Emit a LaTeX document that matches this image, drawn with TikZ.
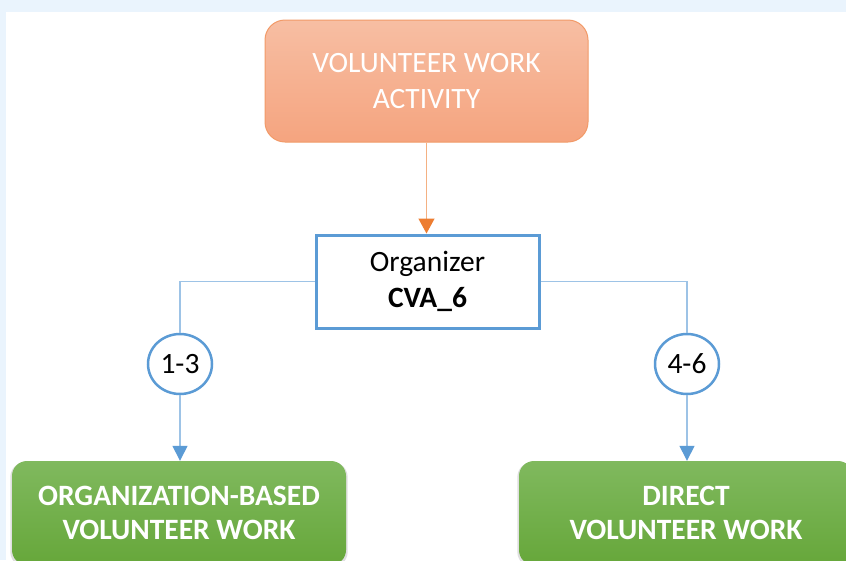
\documentclass[tikz,border=0pt]{standalone}
\usepackage{fontspec}
\setmainfont{Carlito}
\usetikzlibrary{positioning}
\usetikzlibrary{shapes.geometric,arrows.meta,shadows}
\definecolor{bgBlue}{HTML}{EAF4FD}
\definecolor{actTop}{HTML}{F7BEA3}
\definecolor{actBot}{HTML}{F5A47F}
\definecolor{actEdge}{HTML}{F29A68}
\definecolor{arrowOrange}{HTML}{ED7D31}
\definecolor{lineOrange}{HTML}{F4B183}
\definecolor{boxBlue}{HTML}{5B9BD5}
\definecolor{lineBlue}{HTML}{9DC3E6}
\definecolor{resTop}{HTML}{80B95E}
\definecolor{resBot}{HTML}{66A73A}
\tikzset{
    activityBox/.style={
		draw=actEdge, line width=1pt, rounded corners=20pt,
		top color=actTop, bottom color=actBot,
		minimum width=323pt, minimum height=122pt,
		text=white, align=center, font=\fontsize{29.5}{36}\selectfont
	}
}
\tikzset{
    organizerBox/.style={
		draw=boxBlue, line width=3pt, fill=white,
		minimum width=223pt, minimum height=93pt,
		align=center, font=\fontsize{29.5}{36}\selectfont
	}
}
\tikzset{
    rangeCircle/.style={
		ellipse, draw=boxBlue, line width=2.5pt, fill=white,
		minimum width=64pt, minimum height=60pt, inner sep=0pt,
		font=\fontsize{29.5}{32}\selectfont
	},
    resultBox/.style={
		rounded corners=15pt, top color=resTop, bottom color=resBot,
		drop shadow={opacity=0.25, shadow xshift=0pt, shadow yshift=-1.5pt, shadow scale=1.01},
		minimum width=334pt, minimum height=104pt,
		text=white, align=center, font=\fontsize{29.5}{34}\selectfont\bfseries
	},
    orangeArrow/.style={draw=lineOrange, line width=1.3pt, -{Triangle[width=16pt,length=15pt,color=arrowOrange]}},
    blueLine/.style={draw=lineBlue, line width=1.4pt},
    blueArrow/.style={blueLine, -{Triangle[width=15pt,length=15pt,color=boxBlue]}}
}

\begin{document}
\begin{tikzpicture}[x=1pt,y=-1pt]
			\useasboundingbox (0,0) rectangle (846,560);
			\clip (0,0) rectangle (846,560);
			\fill[bgBlue] (0,0) rectangle (846,560);
			\fill[white] (6,12) rectangle (846,560);
			\node[activityBox] (activity) at (426.5,81) {VOLUNTEER WORK\\ACTIVITY};
			\node[organizerBox] (organizer) at (427.5,281.5) {Organizer\\\textbf{CVA\_6}};
			\node[rangeCircle] (rangeLow) at (180,364) {1-3};
			\node[rangeCircle] (rangeHigh) at (687,364) {4-6};
			\node[resultBox] (orgBased) at (179,513) {ORGANIZATION-BASED\\VOLUNTEER WORK};
			\node[resultBox] (direct) at (686,513) {DIRECT\\VOLUNTEER WORK};
			\draw[orangeArrow] (activity.south) -- (activity.south |- organizer.north);
			\draw[blueLine] (organizer.west) -| (rangeLow.north);
			\draw[blueLine] (organizer.east) -| (rangeHigh.north);
			\draw[blueArrow] (rangeLow.south) -- (rangeLow.south |- orgBased.north);
			\draw[blueArrow] (rangeHigh.south) -- (rangeHigh.south |- direct.north);
	\end{tikzpicture}
\end{document}
